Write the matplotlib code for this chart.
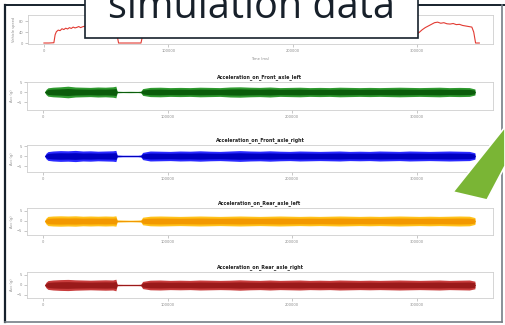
import matplotlib
matplotlib.use('Agg')
import numpy as np
import matplotlib.pyplot as plt
from matplotlib.patches import Rectangle, Polygon
from matplotlib.lines import Line2D

W, H = 505, 325

# vehicle speed trace (time in ms)
speed_t = [0, 4000, 8000, 9000, 10000, 11500, 13000, 14500, 16000, 17500,
           19000, 20500, 22000, 23500, 25000, 26500, 28000, 29500, 31000, 32500,
           34000, 38000, 42000, 46000, 50000, 54000, 57000, 58500, 60000, 70000,
           78000, 79500, 82000, 90000, 110000, 130000, 150000, 170000, 190000, 210000,
           230000, 250000, 270000, 290000, 298000, 301000, 304000, 306500, 309000, 311500,
           314000, 316500, 319000, 321500, 324000, 326500, 329000, 331500, 334000, 336500,
           339000, 341500, 344000, 345500, 347000, 350000]
speed_v = [0, 0, 1, 30, 41, 47, 45, 52, 49, 54,
           51, 56, 53, 58, 55, 57, 60, 56, 59, 61,
           58, 60, 57, 62, 59, 61, 58, 35, 0, 0,
           0, 30, 52, 58, 62, 60, 63, 59, 61, 64,
           60, 62, 59, 61, 45, 36, 48, 56, 62, 68,
           74, 76, 72, 74, 70, 69, 71, 67, 68, 64,
           62, 60, 58, 40, 0, 0]

# acceleration envelopes (half-width of the signal band)
acc_t = [1500, 2500, 4000, 8000, 14000, 20000, 26000, 32000, 38000, 44000,
         50000, 56000, 58500, 59500, 64000, 70000, 76000, 78500, 80000, 86000,
         94000, 102000, 110000, 118000, 126000, 134000, 142000, 150000, 158000, 166000,
         174000, 182000, 190000, 198000, 206000, 214000, 222000, 230000, 238000, 246000,
         254000, 262000, 270000, 278000, 286000, 294000, 302000, 310000, 318000, 326000,
         334000, 342000, 346500]
acc_front_left = [0.3, 1.3, 2.1, 2.4, 2.6, 2.9, 2.5, 2.4, 2.3, 2.5,
                  2.4, 2.6, 2.9, 0.4, 0.3, 0.35, 0.3, 0.4, 1.7, 2.3,
                  2.4, 2.2, 2.3, 2.2, 2.4, 2.3, 2.2, 2.5, 2.6, 2.4,
                  2.3, 2.5, 2.2, 2.3, 2.4, 2.2, 2.3, 2.2, 2.4, 2.3,
                  2.2, 2.3, 2.2, 2.3, 2.4, 2.3, 2.2, 2.3, 2.4, 2.2,
                  2.3, 2.2, 1.5]
acc_front_right = [0.3, 1.4, 2.2, 2.5, 2.7, 2.6, 2.8, 2.5, 2.6, 2.4,
                   2.5, 2.6, 2.8, 0.5, 0.4, 0.4, 0.4, 0.5, 1.8, 2.5,
                   2.4, 2.3, 2.5, 2.4, 2.6, 2.4, 2.3, 2.5, 2.7, 2.5,
                   2.4, 2.6, 2.4, 2.3, 2.5, 2.4, 2.3, 2.4, 2.5, 2.3,
                   2.4, 2.3, 2.5, 2.4, 2.3, 2.5, 2.4, 2.3, 2.4, 2.5,
                   2.4, 2.3, 1.6]
acc_rear_left = [0.4, 1.5, 2.3, 2.5, 2.6, 2.5, 2.6, 2.4, 2.5, 2.4,
                 2.5, 2.4, 2.6, 0.5, 0.45, 0.4, 0.45, 0.5, 1.9, 2.4,
                 2.5, 2.4, 2.3, 2.4, 2.5, 2.4, 2.3, 2.4, 2.5, 2.4,
                 2.3, 2.4, 2.5, 2.4, 2.3, 2.4, 2.3, 2.4, 2.5, 2.4,
                 2.3, 2.4, 2.3, 2.4, 2.5, 2.4, 2.3, 2.4, 2.3, 2.4,
                 2.5, 2.4, 1.7]
acc_rear_right = [0.3, 1.4, 2.2, 2.5, 2.7, 2.8, 2.6, 2.5, 2.4, 2.5,
                  2.6, 2.5, 2.9, 0.4, 0.35, 0.35, 0.35, 0.4, 1.8, 2.4,
                  2.5, 2.3, 2.4, 2.3, 2.5, 2.4, 2.3, 2.4, 2.6, 2.4,
                  2.3, 2.5, 2.3, 2.4, 2.5, 2.3, 2.4, 2.3, 2.5, 2.4,
                  2.3, 2.4, 2.3, 2.4, 2.5, 2.4, 2.3, 2.4, 2.5, 2.3,
                  2.4, 2.5, 1.9]

acc_titles = ['Acceleration_on_Front_axle_left', 'Acceleration_on_Front_axle_right',
              'Acceleration_on_Rear_axle_left', 'Acceleration_on_Rear_axle_right']
acc_series = [acc_front_left, acc_front_right, acc_rear_left, acc_rear_right]
acc_ylims = [(-9, 5), (-8, 5.5), (-7, 6.5), (-6.5, 6.5)]
acc_colors = [('#2f9a2f', '#0b5c0b'), ('#2a2aff', '#0000c0'),
              ('#ffc21a', '#f29800'), ('#c83c3c', '#9a1a1a')]
x_ticks = [0, 100000, 200000, 300000]


def px_rect(x0, y0, x1, y1):
    # pixel box, origin top-left -> figure fraction [l, b, w, h]
    return [x0 / W, 1 - y1 / H, (x1 - x0) / W, (y1 - y0) / H]


def style_axes(ax):
    for s in ax.spines.values():
        s.set_color('#cfcfcf')
        s.set_linewidth(0.6)
    ax.tick_params(length=2, width=0.5, color='#b0b0b0', labelsize=2.6,
                   labelcolor='#8c8c8c', pad=1.5)
    ax.set_xlim(-12800, 361000)
    ax.set_xticks(x_ticks)


fig = plt.figure(figsize=(W / 100, H / 100), dpi=100)

# speed panel
ax = fig.add_axes(px_rect(28, 15, 493, 44))
ax.plot(speed_t, speed_v, color='#e23a32', lw=0.8)
ax.set_ylim(-3.6, 102)
ax.set_yticks([0, 40, 80])
ax.set_xlabel('Time (ms)', fontsize=2.6, color='#8c8c8c', labelpad=3)
ax.set_ylabel('Vehicle speed', fontsize=2.6, color='#8c8c8c', labelpad=2)
style_axes(ax)

panel_rows = [(82, 110), (145, 172), (208, 235), (272, 298)]
for (y0, y1), title, hw, ylim, (c_out, c_in) in zip(panel_rows, acc_titles, acc_series,
                                                     acc_ylims, acc_colors):
    ax = fig.add_axes(px_rect(27, y0, 493, y1))
    hw = np.array(hw)
    ax.fill_between(acc_t, -hw, hw, color=c_out, lw=0)
    ax.fill_between(acc_t, -0.6 * hw, 0.6 * hw, color=c_in, lw=0)
    ax.plot(acc_t, np.zeros(len(acc_t)), color=c_in, lw=0.6)
    ax.set_ylim(*ylim)
    ax.set_yticks([-5, 0, 5])
    ax.set_title(title, fontsize=3.4, fontweight='bold', color='#222222', pad=3)
    ax.set_ylabel('Acc (g)', fontsize=2.6, color='#8c8c8c', labelpad=2)
    style_axes(ax)

# slide frame
dark = '#16212c'
fig.add_artist(Line2D([5 / W, 5 / W], [1 - 5 / H, 1 - 322 / H], color=dark, lw=1.6))
fig.add_artist(Line2D([5 / W, 85 / W], [1 - 5 / H, 1 - 5 / H], color=dark, lw=1.4))
fig.add_artist(Line2D([418 / W, 1], [1 - 5 / H, 1 - 5 / H], color=dark, lw=1.4))
fig.add_artist(Line2D([502 / W, 502 / W], [1 - 5 / H, 1 - 322 / H], color='#767e86', lw=1.2))
fig.add_artist(Line2D([5 / W, 502 / W], [1 - 322 / H, 1 - 322 / H], color='#767e86', lw=1.2))

# heading box
fig.add_artist(Rectangle((85 / W, 1 - 38 / H), 333 / W, 50 / H, facecolor='white',
                         edgecolor=dark, lw=1.2, zorder=5))
fig.text(251.5 / W, 1 - 17.5 / H, 'simulation data', family='Open Sans', fontsize=28.5,
         color='#17202a', ha='center', va='baseline', zorder=6)

# arrow tail on the right edge
pts = [(453, 192), (505, 127), (505, 166), (487, 200)]
fig.add_artist(Polygon([(x / W, 1 - y / H) for x, y in pts], closed=True,
                       facecolor='#7ab535', edgecolor='white', lw=1.2, zorder=7))

fig.savefig('out.png', dpi=100)
